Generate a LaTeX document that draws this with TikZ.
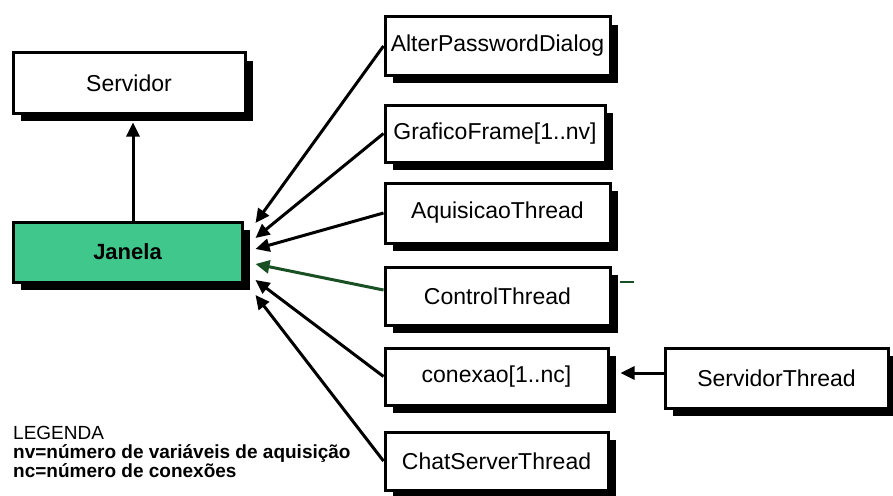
\documentclass[tikz,border=0pt]{standalone}
\usepackage{fontspec}
\setmainfont{Liberation Sans}
\usetikzlibrary{shadows,arrows.meta,calc}
\definecolor{janfill}{RGB}{64,200,140}
\definecolor{dkgreen}{RGB}{25,80,35}
\begin{document}
\begin{tikzpicture}[x=1pt,y=-1pt,
  box/.style={draw=black,line width=3pt,fill=white,rectangle,inner sep=0pt,
    minimum width=225pt,minimum height=58pt,font=\fontsize{23}{26}\selectfont,
    drop shadow={shadow xshift=8pt,shadow yshift=-8pt,fill=black,opacity=1}},
  arr/.style={line width=3pt,-{Triangle[length=14pt,width=13pt]}}]
\useasboundingbox (0,0) rectangle (893,495);
\node[box,minimum width=232pt,minimum height=60pt] (srv) at (129,83) {Servidor};
\node[box,fill=janfill,minimum width=229pt,minimum height=60pt,font=\fontsize{22}{25}\selectfont\bfseries] (jan) at (127.5,252) {Janela};
\node[box] (alt) at (497.5,46) {AlterPasswordDialog};
\node[box,minimum width=220pt,minimum height=57pt] (graf) at (495,133.5) {GraficoFrame[1..nv]};
\node[box,minimum height=60pt] (aq) at (497.5,213) {AquisicaoThread};
\node[box] (ctl) at (497.5,296) {ControlThread};
\node[box,minimum width=223pt,minimum height=57pt] (cnx) at (496.5,376.5) {conexao[1..nc]};
\node[box,minimum width=223pt] (chat) at (496.5,461) {ChatServerThread};
\node[box,minimum width=223pt,minimum height=60pt] (st) at (776.5,378) {ServidorThread};
\draw[arr] ($(jan.north)+(5.5,0)$) -- ($(srv.south)+(4,8)$);
\draw[arr] (alt.west) -- ($(jan.east)+(12,-29)$);
\draw[arr] (graf.west) -- ($(jan.east)+(12,-14)$);
\draw[arr] (aq.west) -- ($(jan.east)+(12,-3)$);
\draw[arr,draw=dkgreen,fill=black] ($(ctl.west)+(0,-6)$) -- ($(jan.east)+(12,12)$);
\draw[arr] (cnx.west) -- ($(jan.east)+(12,28)$);
\draw[arr] (chat.west) -- ($(jan.east)+(12,43)$);
\draw[arr] ($(st.west)+(0,-5)$) -- ($(cnx.east)+(11,-3.5)$);
\coordinate (stubA) at ($(ctl.east)+(8,-14)$);
\coordinate (stubB) at ($(ctl.east)+(22,-14)$);
\draw[line width=1.5pt,dkgreen] (stubA) -- (stubB);
\node[anchor=north west,align=left,inner sep=0pt,font=\fontsize{19}{19}\selectfont] (leg) at (13,426)
  {LEGENDA\\\textbf{nv=número de variáveis de aquisição}\\\textbf{nc=número de conexões}};
\end{tikzpicture}
\end{document}
